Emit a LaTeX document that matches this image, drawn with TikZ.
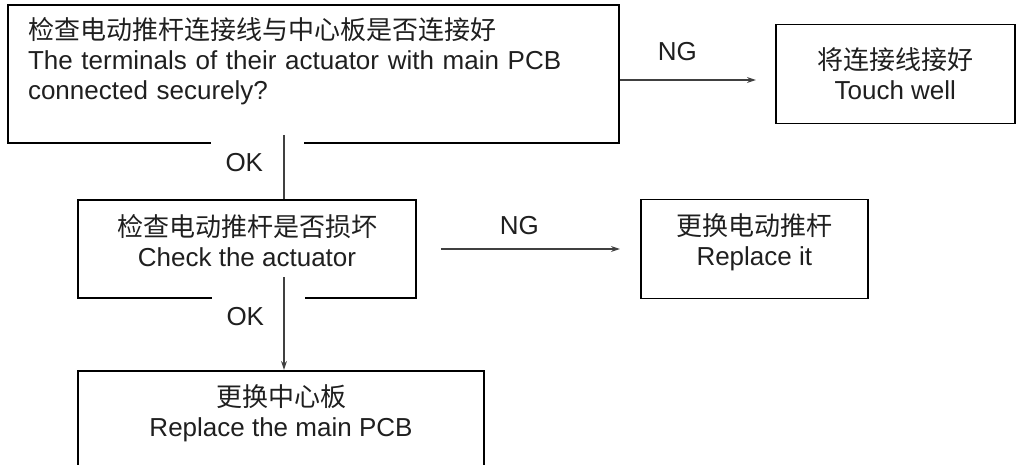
\documentclass[tikz,border=0pt]{standalone}
\usepackage{fontspec}
\setmainfont{Liberation Sans}
\newfontfamily\cjk{Noto Sans CJK SC}
\usepackage{tikz}
\usetikzlibrary{positioning}
\usetikzlibrary{arrows.meta}

\begin{document}
\begin{tikzpicture}[x=1pt,y=-1pt,
    box/.style = {draw, line width=1.8pt, align=center, inner sep=0pt, text=black!88,
      font=\fontsize{26}{30}\selectfont},
    lbl/.style = {inner sep=0pt, text=black!88, font=\fontsize{26}{30}\selectfont},
    okgap/.style = {lbl, fill=white, inner xsep=15pt, text width=63pt, minimum height=46pt, align=left},
    link/.style = {line width=1.2pt, draw=black!75},
    arr/.style = {link, -{Stealth[length=9pt,width=6pt]}}]
        \useasboundingbox (0,0) rectangle (1016,465);
        \node[box, minimum width=611pt, minimum height=138pt, text width=571pt, align=left] (check) at (313.5,74)
          {{\cjk 检查电动推杆连接线与中心板是否连接好}\\The terminals of their actuator with main PCB\\connected securely?\\[2pt]\mbox{}};
        \node[box, minimum width=239pt, minimum height=99pt, right=155pt of check] (touch)
          {{\cjk 将连接线接好}\\Touch well};
        \node[box, minimum width=338pt, minimum height=98pt] (actcheck) at (247,249)
          {{\cjk 检查电动推杆是否损坏}\\Check the actuator\\[-12pt]\mbox{}};
        \node[box, minimum width=227pt, minimum height=99pt, right=223pt of actcheck] (newact)
          {{\cjk 更换电动推杆}\\Replace it\\[-12pt]\mbox{}};
        \node[box, minimum width=406pt, minimum height=98pt, below right=71pt and 0pt of actcheck.south west] (newpcb)
          {{\cjk 更换中心板}\\Replace the main PCB\\[-12pt]\mbox{}};
        % labels on the OK lines
        \node[okgap] (ok1) at (257,163) {OK};
        \node[okgap] (ok2) at (258,317) {OK};
        \coordinate (top1) at (284,135);
        \coordinate (top2) at (284,277);
        \draw[link] (top1) -- (top1 |- actcheck.north);
        \draw[arr] (top2) -- (top2 |- newpcb.north);
        \draw[arr, shorten >=19pt] ([yshift=-6pt]check.east) -- node[lbl, above=19pt, xshift=-20pt] (ng1) {NG} ([yshift=-6pt]touch.west);
        \draw[arr, shorten <=24pt, shorten >=20pt] (actcheck.east) -- node[lbl, above=14pt, xshift=-9pt] (ng2) {NG} (newact.west);
      \end{tikzpicture}
\end{document}
